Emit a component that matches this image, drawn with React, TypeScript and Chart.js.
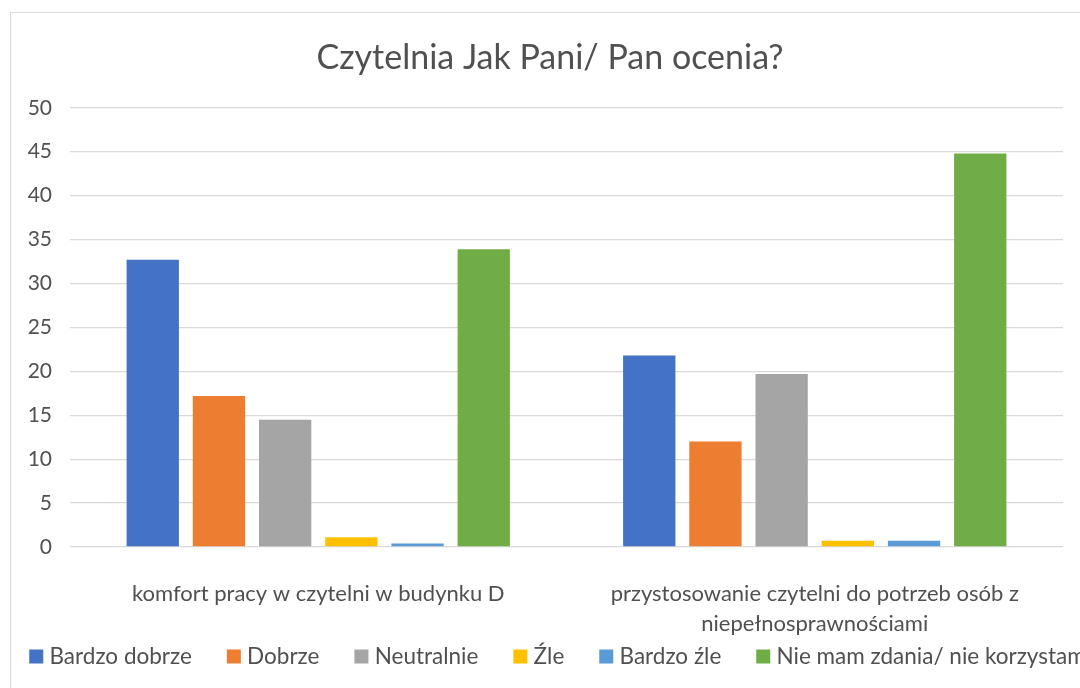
import React, { useEffect, useRef } from "react";
import { Chart, registerables } from "chart.js";

Chart.register(...registerables);

const title = "Czytelnia Jak Pani/ Pan ocenia?";
const categories: (string | string[])[] = [
  "komfort pracy w czytelni w budynku D",
  ["przystosowanie czytelni do potrzeb osób z", "niepełnosprawnościami"],
];
const seriesNames = ["Bardzo dobrze", "Dobrze", "Neutralnie", "Źle", "Bardzo źle", "Nie mam zdania/ nie korzystam"];
const seriesColors = ["#4472C4", "#ED7D31", "#A5A5A5", "#FFC000", "#5B9BD5", "#70AD47"];
const bardzoDobrze = [32.7, 21.8];
const dobrze = [17.2, 12.0];
const neutralnie = [14.5, 19.7];
const zle = [1.1, 0.7];
const bardzoZle = [0.4, 0.7];
const nieMamZdania = [33.9, 44.8];
const yTicks = [0, 5, 10, 15, 20, 25, 30, 35, 40, 45, 50];

const seriesValues = [bardzoDobrze, dobrze, neutralnie, zle, bardzoZle, nieMamZdania];

const CANVAS_W = 1200;
const CANVAS_H = 688;
const OFFSET_X = -50;
const FONT = "Lato, 'Open Sans', sans-serif";
const TEXT = "#505050";

const LEGEND_FONT = 22.5;
const LEGEND_PAD = 40;
const LEGEND_H = 40;
const LEGEND_ROW_Y = 656.5;
const LEGEND_DX = 10;

const framePlugin = {
  id: "frame",
  beforeDraw(chart: any) {
    const ctx = chart.ctx;
    ctx.save();
    ctx.fillStyle = "#ffffff";
    ctx.fillRect(0, 0, chart.width, chart.height);
    ctx.strokeStyle = "#d9d9d9";
    ctx.lineWidth = 1;
    ctx.strokeRect(10.5 - OFFSET_X, 12.5, 2000, 2000);
    ctx.restore();
  },
};

const legendTweak = {
  id: "legendTweak",
  afterInit(chart: any) {
    const lg = chart.legend;
    if (!lg) return;
    const orig = lg.fit.bind(lg);
    lg.fit = () => {
      orig();
      lg.height = LEGEND_H;
    };
  },
  afterLayout(chart: any) {
    const lg = chart.legend;
    if (!lg) return;
    const dy = LEGEND_ROW_Y - (lg.top + LEGEND_PAD + LEGEND_FONT / 2);
    lg.top += dy;
    lg.bottom = CANVAS_H;
    lg.height = lg.bottom - lg.top;
    lg.left += LEGEND_DX;
    lg.right += LEGEND_DX;
  },
};

export default function App() {
  const ref = useRef<HTMLCanvasElement>(null);
  useEffect(() => {
    if (!ref.current) return;
    const chart = new Chart(ref.current, {
      type: "bar",
      data: {
        labels: categories,
        datasets: seriesNames.map((name, i) => ({
          label: name,
          data: seriesValues[i],
          backgroundColor: seriesColors[i],
          borderWidth: 0,
          categoryPercentage: 0.8,
          barPercentage: 0.79,
        })),
      },
      options: {
        responsive: false,
        animation: false,
        devicePixelRatio: 1,
        layout: { padding: { top: 0, left: 0, right: 0, bottom: 10.5 } },
        plugins: {
          title: {
            display: true,
            text: title,
            color: TEXT,
            font: { family: FONT, size: 34, weight: "normal", lineHeight: 1.2 },
            padding: { top: 38, bottom: 29 },
          },
          legend: {
            position: "bottom",
            labels: {
              color: TEXT,
              font: { family: FONT, size: LEGEND_FONT },
              usePointStyle: true,
              pointStyle: "rect",
              boxWidth: 4,
              boxHeight: 14,
              padding: LEGEND_PAD,
            },
          },
          tooltip: { enabled: false },
        },
        scales: {
          x: {
            grid: { display: false },
            border: { display: false },
            ticks: {
              color: TEXT,
              font: { family: FONT, size: 22, lineHeight: 1.364 },
              padding: 24,
              maxRotation: 0,
              autoSkip: false,
            },
            afterFit(s: any) {
              s.height = 90.5;
            },
          },
          y: {
            min: 0,
            max: 50,
            afterBuildTicks(s: any) {
              s.ticks = yTicks.map((v) => ({ value: v }));
            },
            grid: { color: "#d9d9d9", lineWidth: 1.3, drawTicks: false },
            border: { display: false },
            ticks: {
              color: TEXT,
              font: { family: FONT, size: 21 },
              padding: 18,
            },
            afterFit(s: any) {
              s.width = 70 - OFFSET_X;
            },
          },
          y2: {
            position: "right",
            display: true,
            grid: { display: false },
            border: { display: false },
            ticks: { display: false },
            afterFit(s: any) {
              s.width = CANVAS_W + OFFSET_X - 1063;
            },
          },
        },
      },
      plugins: [framePlugin, legendTweak],
    });
    return () => chart.destroy();
  }, []);

  return (
    <div
      style={{
        position: "fixed",
        left: 0,
        top: 0,
        width: 1080,
        height: 688,
        overflow: "hidden",
        background: "#fff",
      }}
    >
      <canvas
        ref={ref}
        width={CANVAS_W}
        height={CANVAS_H}
        style={{ position: "absolute", left: OFFSET_X, top: 0, width: CANVAS_W, height: CANVAS_H }}
      />
    </div>
  );
}
